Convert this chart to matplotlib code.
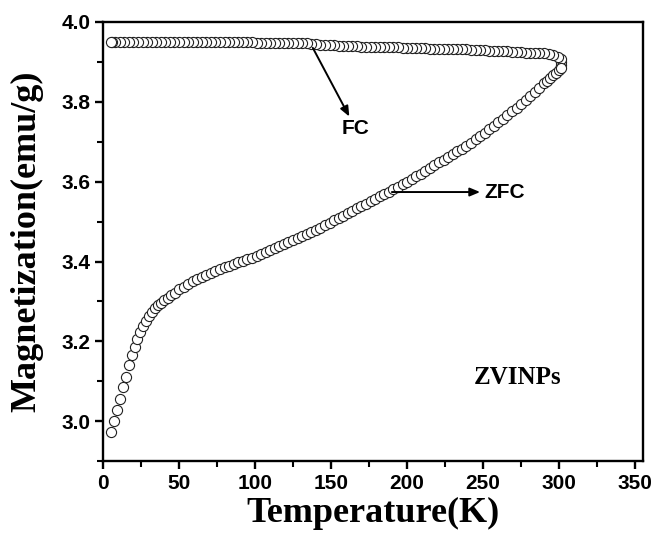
import matplotlib.pyplot as plt

# ZFC branch
zfc_temp = [5.5, 7.5, 9.5, 11.3, 13.0, 15.0, 17.0, 19.0, 21.0, 22.7, 24.4, 26.2,
            28.0, 30.0, 32.0, 34.0, 36.0, 38.0, 40.0, 42.5, 45.0, 47.5, 50.0,
            53, 56, 59, 62, 65, 68, 71, 74, 77, 80, 83, 86, 89, 92, 95, 98,
            101, 104, 107, 110, 113, 116, 119, 122, 125, 128, 131, 134, 137,
            140, 143, 146, 149, 152, 155, 158, 161, 164, 167, 170, 173, 176,
            179, 182, 185, 188, 191, 194, 197, 200, 203, 206, 209, 212, 215,
            218, 221, 224, 227, 230, 233, 236, 239, 242, 245, 248, 251, 254,
            257, 260, 263, 266, 269, 272, 275, 278, 281, 284, 287, 290, 292,
            294, 296, 298, 300, 301]
zfc_mag = [2.972, 3.000, 3.028, 3.056, 3.085, 3.112, 3.140, 3.165, 3.186, 3.206,
           3.224, 3.239, 3.252, 3.264, 3.274, 3.283, 3.290, 3.297, 3.303, 3.309,
           3.316, 3.322, 3.330, 3.337, 3.344, 3.350, 3.356, 3.362, 3.367, 3.372,
           3.377, 3.382, 3.386, 3.390, 3.394, 3.398, 3.402, 3.406, 3.410, 3.415,
           3.420, 3.424, 3.429, 3.434, 3.439, 3.444, 3.449, 3.454, 3.459, 3.464,
           3.469, 3.474, 3.479, 3.485, 3.491, 3.497, 3.503, 3.509, 3.515, 3.521,
           3.527, 3.533, 3.539, 3.545, 3.551, 3.557, 3.563, 3.569, 3.575, 3.581,
           3.587, 3.593, 3.599, 3.606, 3.613, 3.620, 3.627, 3.634, 3.641, 3.648,
           3.655, 3.662, 3.669, 3.676, 3.683, 3.690, 3.698, 3.706, 3.714, 3.722,
           3.731, 3.740, 3.749, 3.758, 3.767, 3.776, 3.785, 3.795, 3.805, 3.815,
           3.825, 3.835, 3.846, 3.853, 3.860, 3.867, 3.873, 3.879, 3.885]

# FC branch, cooling from 300 K
fc_temp = [301, 301.5, 301, 299, 296, 293,
           290, 287, 284, 281, 278, 275, 272, 269, 266, 263, 260, 257, 254, 251,
           248, 245, 242, 239, 236, 233, 230, 227, 224, 221, 218, 215, 212, 209,
           206, 203, 200, 197, 194, 191, 188, 185, 182, 179, 176, 173, 170, 167,
           164, 161, 158, 155, 152, 149, 146, 143, 140, 137, 134, 131, 128, 125,
           122, 119, 116, 113, 110, 107, 104, 101, 98, 95, 92, 89, 86, 83, 80,
           77, 74, 71, 68, 65, 62, 59, 56, 53, 50, 47, 44, 41, 38, 35, 32, 29,
           26, 23, 20, 17, 14, 11, 8, 6, 5]
fc_mag = [3.892, 3.900, 3.907, 3.913, 3.917, 3.919,
          3.921, 3.922, 3.922, 3.923, 3.923, 3.924, 3.925, 3.925, 3.926, 3.926,
          3.927, 3.928, 3.928, 3.929, 3.929, 3.930, 3.930, 3.931, 3.931, 3.931,
          3.932, 3.932, 3.932, 3.933, 3.933, 3.933, 3.934, 3.934, 3.934, 3.935,
          3.935, 3.935, 3.936, 3.936, 3.936, 3.937, 3.937, 3.937, 3.938, 3.938,
          3.938, 3.939, 3.939, 3.939, 3.940, 3.940, 3.941, 3.941, 3.942, 3.943,
          3.944, 3.945, 3.946, 3.946, 3.947, 3.947, 3.947, 3.948, 3.948, 3.948,
          3.948, 3.948, 3.948, 3.948, 3.949, 3.949, 3.949, 3.949, 3.949, 3.949,
          3.949, 3.950, 3.950, 3.950, 3.950, 3.950, 3.950, 3.950, 3.950, 3.950,
          3.950, 3.950, 3.950, 3.950, 3.950, 3.950, 3.950, 3.951, 3.951, 3.951,
          3.951, 3.951, 3.951, 3.951, 3.951, 3.951, 3.951]

x_ticks = [0, 50, 100, 150, 200, 250, 300, 350]
y_ticks = [3.0, 3.2, 3.4, 3.6, 3.8, 4.0]

fig = plt.figure(figsize=(6.6, 5.35), dpi=100)
ax = fig.add_axes([0.156, 0.138, 0.818, 0.821])

marker_style = dict(linestyle="none", marker="o", markersize=7.3,
                    markerfacecolor="white", markeredgecolor="#222222",
                    markeredgewidth=0.8)
ax.plot(fc_temp, fc_mag, **marker_style)
ax.plot(zfc_temp, zfc_mag, **marker_style)

ax.set_xlim(0, 355)
ax.set_ylim(2.905, 4.0)
ax.set_xticks(x_ticks)
ax.set_yticks(y_ticks)
ax.set_xticks([25, 75, 125, 175, 225, 275, 325], minor=True)
ax.set_yticks([2.9, 3.1, 3.3, 3.5, 3.7, 3.9], minor=True)
ax.set_yticklabels([f"{v:.1f}" for v in y_ticks])

for sp in ax.spines.values():
    sp.set_linewidth(1.7)
ax.tick_params(which="major", direction="out", length=6, width=1.7,
               labelsize=15, pad=3)
ax.tick_params(which="minor", direction="out", length=4, width=1.5)
for lab in ax.get_xticklabels() + ax.get_yticklabels():
    lab.set_fontweight("bold")
    lab.set_family("Liberation Sans")

serif = dict(family="Liberation Serif", fontweight="bold", fontsize=26)
ax.set_xlabel("Temperature(K)", labelpad=3, **serif)
ax.set_ylabel("Magnetization(emu/g)", labelpad=13, **serif)

arrow = dict(arrowstyle="-|>,head_length=0.6,head_width=0.25", color="black",
             lw=1.4, shrinkA=0, shrinkB=0)
ax.annotate("", xy=(162, 3.763), xytext=(138, 3.935), arrowprops=arrow)
ax.text(166, 3.733, "FC", fontsize=15, fontweight="bold",
        family="Liberation Sans", ha="center", va="center")
ax.annotate("", xy=(248, 3.574), xytext=(190, 3.574), arrowprops=arrow)
ax.text(251, 3.574, "ZFC", fontsize=15, fontweight="bold",
        family="Liberation Sans", ha="left", va="center")
ax.text(244, 3.11, "ZVINPs", fontsize=18, fontweight="bold",
        family="Liberation Serif", ha="left", va="center")

fig.savefig("out.png", dpi=100)
